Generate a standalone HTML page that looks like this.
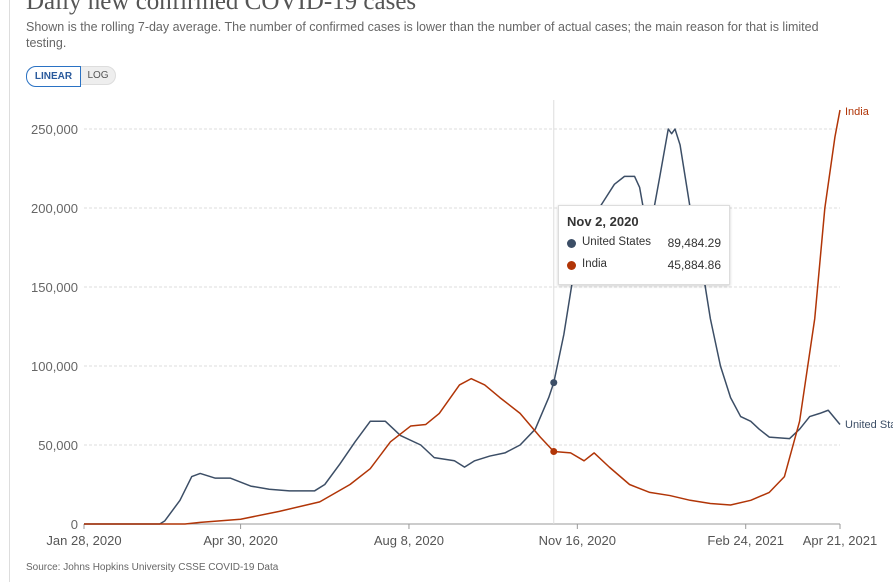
<!DOCTYPE html>
<html><head><meta charset="utf-8"><style>
body{margin:0;width:893px;height:582px;overflow:hidden;background:#fff;font-family:"Liberation Sans",sans-serif;position:relative}
.t{position:absolute;white-space:nowrap}
</style></head><body>
<div style="position:absolute;left:9px;top:0;width:1px;height:582px;background:#ddd"></div>
<div class="t" style="left:26px;top:-12px;font-family:'Liberation Serif',serif;font-size:25px;color:#555">Daily new confirmed COVID-19 cases</div>
<div class="t" style="left:26px;top:19px;font-size:12.5px;color:#666;line-height:16px;white-space:normal;width:800px">Shown is the rolling 7-day average. The number of confirmed cases is lower than the number of actual cases; the main reason for that is limited testing.</div>
<div style="position:absolute;left:26px;top:66px;width:90px;height:19px;border-radius:10px;background:#eee;border:1px solid #ddd;box-sizing:border-box">
<div style="position:absolute;left:-1px;top:-1px;width:53px;height:19px;border:1px solid #2a72c4;border-radius:10px 0 0 10px;background:#fff;color:#2a5a9c;font-size:10px;font-weight:bold;text-align:center;line-height:19px">LINEAR</div>
<div style="position:absolute;left:54px;top:0;width:34px;height:17px;color:#555;font-size:10px;text-align:center;line-height:17px">LOG</div>
</div>
<svg id="c" width="893" height="582" style="position:absolute;left:0;top:0"></svg>
<div style="position:absolute;left:558px;top:205px;width:170px;height:78px;background:#fff;border:1px solid #ddd;box-shadow:0 1px 3px rgba(0,0,0,.2);font-size:12px;color:#333">
<div style="position:absolute;left:8px;top:8px;font-weight:bold;font-size:13px">Nov 2, 2020</div>
<div style="position:absolute;left:8px;top:33px;width:9px;height:9px;border-radius:50%;background:#3c4e66"></div>
<div style="position:absolute;left:23px;top:30px;font-size:11.5px">United States</div>
<div style="position:absolute;right:8px;top:30px">89,484.29</div>
<div style="position:absolute;left:8px;top:55px;width:9px;height:9px;border-radius:50%;background:#b13507"></div>
<div style="position:absolute;left:23px;top:52px;font-size:11.5px">India</div>
<div style="position:absolute;right:8px;top:52px">45,884.86</div>
</div>
<div class="t" style="left:26px;top:562px;font-size:10px;color:#666">Source: Johns Hopkins University CSSE COVID-19 Data</div>
<script>
const yTicks=[0,50000,100000,150000,200000,250000];
const xTickDays=[0,93,193,293,393,449];
const xTickLabels=["Jan 28, 2020","Apr 30, 2020","Aug 8, 2020","Nov 16, 2020","Feb 24, 2021","Apr 21, 2021"];
const usDays=[0,45,48,57,64,69,78,87,99,110,122,137,143,152,161,170,179,188,200,208,220,226,232,241,250,259,268,276,279,285,291,300,309,315,321,327,330,333,336,342,347,349,351,354,360,366,372,378,384,390,396,401,407,419,425,431,437,442,449];
const usVals=[0,0,2000,15000,30000,32000,29000,29000,24000,22000,21000,21000,25000,38000,52000,65000,65000,56000,50000,42000,40000,36000,40000,43000,45000,50000,60000,80000,89484,120000,160000,190000,205000,215000,220000,220000,213000,195000,185000,220000,250000,247000,250000,240000,200000,170000,130000,100000,80000,68000,65000,60000,55000,54000,60000,68000,70000,72000,63000];
const inDays=[0,60,69,93,116,140,158,170,182,194,203,211,223,230,238,247,259,271,279,289,297,303,312,324,336,348,360,372,384,396,407,416,425,434,440,446,449];
const inVals=[0,0,1000,3000,8000,14000,25000,35000,52000,62000,63000,70000,88000,92000,88000,80000,70000,55000,45885,45000,40000,45000,36000,25000,20000,18000,15000,13000,12000,15000,20000,30000,65000,130000,200000,245000,262000];
const X=d=>84+d*756/449, Y=v=>524-v*395/250000;
const svg=document.getElementById('c'),NS='http://www.w3.org/2000/svg';
function mk(t,a,p){const e=document.createElementNS(NS,t);for(const k in a)e.setAttribute(k,a[k]);(p||svg).appendChild(e);return e}
yTicks.forEach(v=>{
 const l=mk('line',{x1:84,x2:840,y1:Y(v),y2:Y(v),stroke:v?'#ddd':'#999','stroke-dasharray':v?'3,2':''});
 
 
 const t=mk('text',{x:78,y:Y(v)+5,'text-anchor':'end','font-size':13,fill:'#666','font-family':'Liberation Sans'});
 t.textContent=v.toLocaleString('en-US');
 
 
});
xTickDays.forEach((d,i)=>{
 mk('line',{x1:X(d),x2:X(d),y1:524,y2:529,stroke:'#999'});
 const t=mk('text',{x:X(d),y:545,'text-anchor':i==5?'middle':'middle','font-size':13,fill:'#555','font-family':'Liberation Sans'});
 t.textContent=xTickLabels[i];
 
 
});
const hl=mk('line',{x1:X(279),x2:X(279),y1:100,y2:524,stroke:'#ddd'});


function series(days,vals,col,name){
 const p=mk('polyline',{points:days.map((d,i)=>X(d)+','+Y(vals[i])).join(' '),fill:'none',stroke:col,'stroke-width':1.5,'stroke-linejoin':'round'});
 
 
}
series(usDays,usVals,'#3c4e66','us-line');
series(inDays,inVals,'#b13507','india-line');
const d1=mk('circle',{cx:X(279),cy:Y(usVals[usDays.indexOf(279)]),r:3.5,fill:'#3c4e66'});


const d2=mk('circle',{cx:X(279),cy:Y(inVals[inDays.indexOf(279)]),r:3.5,fill:'#b13507'});


const l1=mk('text',{x:845,y:115,'font-size':11,fill:'#b13507','font-family':'Liberation Sans'});l1.textContent='India';


const l2=mk('text',{x:845,y:428,'font-size':11,fill:'#3c4e66','font-family':'Liberation Sans'});l2.textContent='United States';


</script>
</body></html>
